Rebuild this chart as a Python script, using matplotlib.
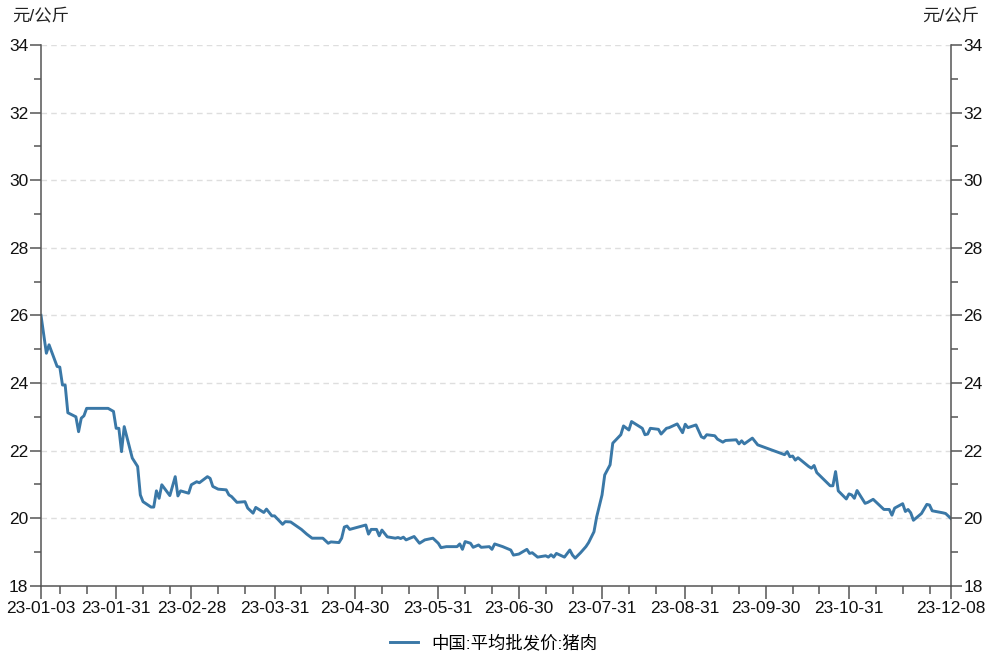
import matplotlib.pyplot as plt
import pandas as pd

plt.rcParams['font.family'] = ['Liberation Sans', 'Noto Sans CJK SC', 'DejaVu Sans']

#---data (2023)---
dates = ['01-03', '01-05', '01-06', '01-09', '01-10', '01-11', '01-12', '01-13', '01-16', '01-17',
         '01-18', '01-19', '01-20', '01-28', '01-30', '01-31', '02-01', '02-02', '02-03', '02-06',
         '02-08', '02-09', '02-10', '02-13', '02-14', '02-15', '02-16', '02-17', '02-20', '02-22',
         '02-23', '02-24', '02-27', '02-28', '03-02', '03-03', '03-06', '03-07', '03-08', '03-10',
         '03-13', '03-14', '03-15', '03-17', '03-20', '03-21', '03-23', '03-24', '03-27', '03-28',
         '03-30', '03-31', '04-03', '04-04', '04-06', '04-10', '04-12', '04-14', '04-18', '04-20',
         '04-21', '04-24', '04-25', '04-26', '04-27', '04-28', '05-04', '05-05', '05-06', '05-08',
         '05-09', '05-10', '05-12', '05-15', '05-16', '05-17', '05-18', '05-19', '05-22', '05-23',
         '05-24', '05-26', '05-29', '05-31', '06-01', '06-03', '06-07', '06-08', '06-09', '06-10',
         '06-12', '06-13', '06-15', '06-16', '06-19', '06-20', '06-21', '06-24', '06-27', '06-28',
         '06-30', '07-03', '07-04', '07-05', '07-07', '07-10', '07-11', '07-12', '07-13', '07-14',
         '07-17', '07-19', '07-20', '07-21', '07-23', '07-25', '07-26', '07-28', '07-29', '07-31',
         '08-01', '08-03', '08-04', '08-07', '08-08', '08-10', '08-11', '08-15', '08-16', '08-17',
         '08-18', '08-21', '08-22', '08-24', '08-25', '08-28', '08-30', '08-31', '09-01', '09-04',
         '09-06', '09-07', '09-08', '09-11', '09-12', '09-14', '09-15', '09-19', '09-20', '09-21',
         '09-22', '09-25', '09-27', '10-07', '10-08', '10-09', '10-10', '10-11', '10-12', '10-16',
         '10-17', '10-18', '10-19', '10-24', '10-25', '10-26', '10-27', '10-30', '10-31', '11-01',
         '11-02', '11-03', '11-06', '11-07', '11-09', '11-13', '11-15', '11-16', '11-17', '11-20',
         '11-21', '11-22', '11-23', '11-24', '11-27', '11-29', '11-30', '12-01', '12-05', '12-06',
         '12-08']
prices = [26.00, 24.88, 25.13, 24.49, 24.47, 23.94, 23.94, 23.12, 23.00, 22.56,
          22.96, 23.03, 23.25, 23.25, 23.16, 22.66, 22.66, 21.97, 22.71, 21.78,
          21.53, 20.69, 20.49, 20.33, 20.33, 20.81, 20.59, 20.99, 20.67, 21.23,
          20.66, 20.81, 20.74, 20.99, 21.08, 21.05, 21.23, 21.18, 20.94, 20.86,
          20.84, 20.69, 20.64, 20.47, 20.49, 20.30, 20.15, 20.32, 20.17, 20.27,
          20.07, 20.07, 19.82, 19.90, 19.89, 19.67, 19.53, 19.41, 19.41, 19.26,
          19.30, 19.28, 19.41, 19.74, 19.77, 19.67, 19.80, 19.53, 19.67, 19.67,
          19.48, 19.65, 19.45, 19.41, 19.43, 19.40, 19.44, 19.36, 19.46, 19.36,
          19.26, 19.36, 19.41, 19.26, 19.13, 19.16, 19.16, 19.24, 19.08, 19.31,
          19.26, 19.14, 19.21, 19.14, 19.16, 19.08, 19.24, 19.16, 19.06, 18.91,
          18.94, 19.08, 18.96, 18.98, 18.85, 18.89, 18.85, 18.92, 18.85, 18.96,
          18.85, 19.06, 18.91, 18.82, 18.98, 19.16, 19.28, 19.60, 20.04, 20.69,
          21.28, 21.58, 22.22, 22.47, 22.73, 22.61, 22.86, 22.66, 22.47, 22.49,
          22.66, 22.63, 22.49, 22.66, 22.68, 22.79, 22.53, 22.78, 22.68, 22.76,
          22.41, 22.37, 22.47, 22.44, 22.34, 22.25, 22.30, 22.32, 22.20, 22.29,
          22.20, 22.37, 22.17, 21.88, 21.97, 21.82, 21.84, 21.72, 21.79, 21.53,
          21.48, 21.56, 21.35, 20.96, 20.96, 21.38, 20.81, 20.57, 20.72, 20.69,
          20.59, 20.82, 20.44, 20.47, 20.56, 20.26, 20.26, 20.09, 20.30, 20.43,
          20.20, 20.26, 20.16, 19.94, 20.14, 20.41, 20.39, 20.22, 20.16, 20.14,
          19.99]

tick_dates = ['01-03', '01-31', '02-28', '03-31', '04-30', '05-31', '06-30',
              '07-31', '08-31', '09-30', '10-31', '12-08']
minor_dates = ['01-10', '01-20', '02-10', '02-20', '03-10', '03-20', '04-10', '04-20',
               '05-10', '05-20', '06-10', '06-20', '07-10', '07-20', '08-10', '08-20',
               '09-10', '09-20', '10-10', '10-20', '11-10', '11-20', '11-30']
series_name = '中国:平均批发价:猪肉'
unit = '元/公斤'

x = pd.to_datetime(['2023-' + d for d in dates])
major = pd.to_datetime(['2023-' + d for d in tick_dates])
minor = pd.to_datetime(['2023-' + d for d in minor_dates])

fig = plt.figure(figsize=(10, 6.65), dpi=100)
ax = fig.add_axes([0.041, 0.119, 0.910, 0.8135])

ax.plot(x, prices, color='#3a78a7', linewidth=2.1, label=series_name)

ax.set_xlim(major[0], major[-1])
ax.set_ylim(18, 34)
ax.set_yticks(range(18, 35, 2))
ax.set_yticks(range(19, 34, 2), minor=True)
ax.set_xticks(major)
ax.set_xticklabels([d.strftime('%y-%m-%d') for d in major])
ax.set_xticks(minor, minor=True)

# dashed grid on the major y values
ax.yaxis.grid(True, linestyle=(0, (4, 3)), color='#dedede', linewidth=1)
ax.xaxis.grid(False)
ax.set_axisbelow(True)

ax.spines['top'].set_visible(False)
for side in ['left', 'right', 'bottom']:
    ax.spines[side].set_color('#555555')
    ax.spines[side].set_linewidth(1.1)

fs = 12.5
ax.tick_params(axis='y', which='both', left=True, right=True, labelleft=True, labelright=True,
               colors='#555555', labelcolor='#111111', labelsize=fs, width=1.1)
ax.tick_params(axis='y', which='major', length=8, pad=1)
ax.tick_params(axis='y', which='minor', length=5)
ax.tick_params(axis='x', which='both', colors='#555555', labelcolor='#111111', labelsize=fs, width=1.1)
ax.tick_params(axis='x', which='major', length=9, pad=2)
ax.tick_params(axis='x', which='minor', length=6)

fig.text(0.012, 0.975, unit, fontsize=fs, color='#222222', ha='left', va='center')
fig.text(0.922, 0.975, unit, fontsize=fs, color='#222222', ha='left', va='center')

fig.legend(loc='center', bbox_to_anchor=(0.494, 0.033), frameon=False, fontsize=fs,
           handlelength=1.6, handletextpad=0.8)

fig.savefig('out.png', dpi=100)
